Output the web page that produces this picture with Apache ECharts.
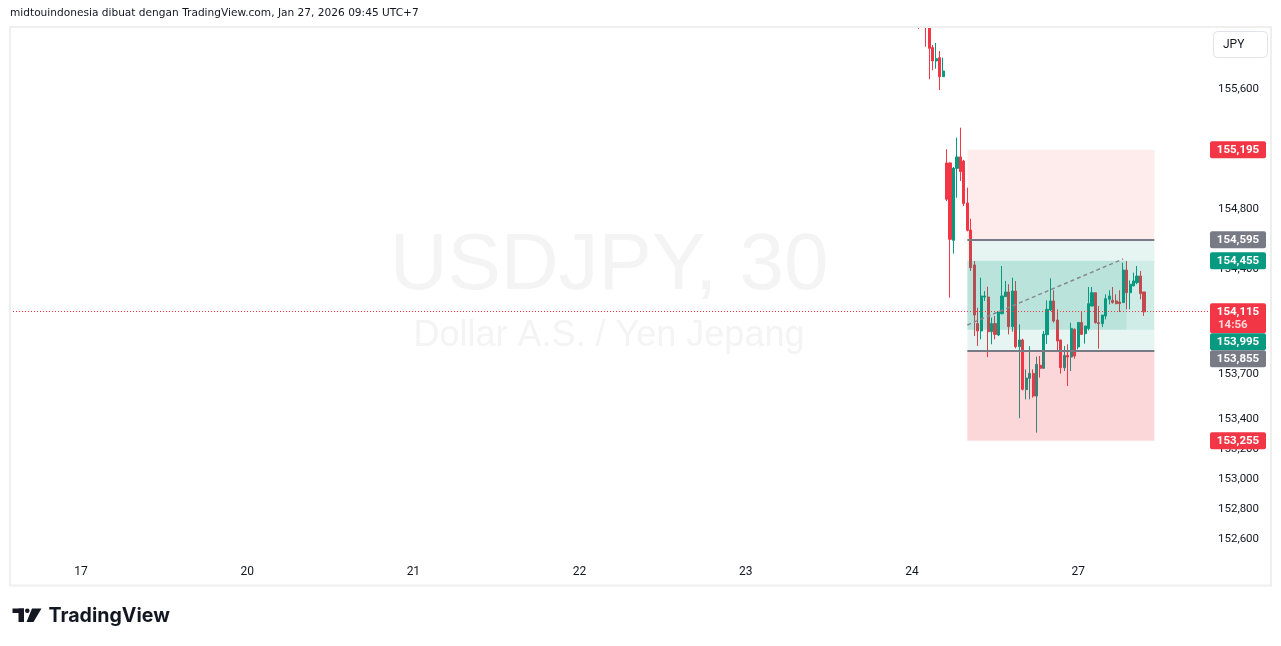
<!DOCTYPE html>
<html>
<head>
<meta charset="utf-8">
<title>USDJPY, 30</title>
<script src="https://cdn.jsdelivr.net/npm/echarts@6/dist/echarts.min.js"></script>
<style>
  html, body { margin: 0; padding: 0; background: #fff; }
  #chart { width: 1281px; height: 646px; }
</style>
</head>
<body>
<div id="chart"></div>
<script>
// time slots of 30 min, 48 per trading day; weekend compressed like TradingView
const slotCount = 346
const dayLabels = ['17', '20', '21', '22', '23', '24', '27']
const dayStartSlots = [20, 68, 116, 164, 212, 260, 308]

// price scale
const priceMin = 152473.33
const priceMax = 156013.33
const priceTicks = [155600, 154800, 154400, 153700, 153400, 153200, 153000, 152800, 152600]

// candles, first one sits in slot 262
const firstCandleSlot = 262
const candleOpen = [
  156150, 156200, 156150, 156050, 155876, 155787, 155809, 155682,
  155107, 155107, 154591, 155071, 155147, 155120, 154840, 154660, 154427, 154036,
  153987, 154213, 154213, 153982, 154036, 153960, 154102, 154216, 154247, 154016,
  154253, 153882, 153927, 153596, 153671, 153704, 153553, 153758, 153738, 153962,
  154127, 154187, 154060, 153927, 153742, 153824, 153813, 153998, 153880, 154044,
  153969, 154004, 154153, 154242, 154042, 154036, 154087, 154198, 154191, 154187,
  154180, 154176, 154393, 154242, 154287, 154309, 154353, 154247
]
const candleClose = [
  156080, 156150, 156050, 155871, 155787, 155802, 155682, 155720,
  154865, 154598, 155073, 155147, 155049, 154836, 154658, 154409, 154093, 153987,
  154220, 154220, 153982, 154036, 153964, 154113, 154220, 154247, 154016, 154253,
  153882, 153927, 153598, 153673, 153704, 153553, 153764, 153738, 153966, 154131,
  154187, 154053, 153920, 153742, 153824, 153813, 154004, 153820, 154044, 153964,
  154020, 154169, 154242, 154042, 154036, 154093, 154202, 154220, 154176, 154169,
  154169, 154393, 154242, 154298, 154320, 154353, 154236, 154115
]
const candleLow = [
  156000, 156080, 155882, 155665, 155725, 155735, 155593, 155682,
  154853, 154209, 154502, 154875, 154987, 154820, 154651, 154387, 153953, 153887,
  153931, 154187, 153813, 153898, 153931, 153953, 154098, 154216, 153964, 153982,
  153871, 153405, 153590, 153531, 153531, 153542, 153309, 153676, 153736, 153900,
  154120, 154042, 153853, 153702, 153720, 153620, 153720, 153802, 153864, 153964,
  153902, 153991, 154153, 154036, 153869, 154013, 154064, 154164, 154169, 154164,
  154113, 154176, 154131, 154131, 154287, 154298, 154198, 154087
]
const candleHigh = [
  156200, 156250, 156200, 156100, 155893, 155907, 155853, 155809,
  155198, 155110, 155080, 155276, 155342, 155127, 154942, 154735, 154453, 154142,
  154342, 154253, 154282, 154076, 154087, 154113, 154420, 154320, 154298, 154342,
  154320, 154031, 153935, 153731, 153885, 153731, 153816, 153820, 153987, 154191,
  154338, 154258, 154131, 153927, 153887, 153898, 154042, 154004, 154044, 154116,
  154020, 154280, 154280, 154242, 154153, 154093, 154231, 154258, 154280, 154231,
  154258, 154442, 154453, 154324, 154376, 154420, 154387, 154247
]

// two position tools drawn on the chart
const toolStartSlot = 276
const toolEndSlot = 330
const toolProgressSlot = 322
const shortEntry = 154595, shortStop = 155195, shortTarget = 153995
const longEntry = 153855, longStop = 153255, longTarget = 154455
const trendFrom = [276, 154027]
const trendTo = [321, 154467]
const lastPrice = 154115
const countdown = '14:56'

const UP = '#089981'
const DOWN = '#f23645'
const GREY = '#787b86'

const categories = new Array(slotCount).fill('')
dayStartSlots.forEach((s, i) => { categories[s] = dayLabels[i] })

const candles = new Array(slotCount).fill('-')
candleOpen.forEach((o, i) => {
  candles[firstCandleSlot + i] = [o, candleClose[i], candleLow[i], candleHigh[i]]
})

const fmt = v => Math.round(v).toLocaleString('en-US')

const gridLeft = 10
const gridRight = 73
const gridTop = 27
const gridBottom = 88

const chart = echarts.init(document.getElementById('chart'), null, { renderer: 'canvas' })

chart.setOption({
  animation: false,
  backgroundColor: '#ffffff',
  grid: {
    left: gridLeft,
    right: gridRight,
    top: gridTop,
    bottom: gridBottom,
    outerBoundsMode: 'none'
  },
  xAxis: {
    type: 'category',
    data: categories,
    boundaryGap: true,
    axisLine: { show: false },
    axisTick: { show: false },
    splitLine: { show: false },
    axisLabel: {
      interval: (i, v) => v !== '',
      color: '#131722',
      fontSize: 12,
      fontFamily: 'Roboto',
      margin: 8
    }
  },
  yAxis: {
    type: 'value',
    position: 'right',
    min: priceMin,
    max: priceMax,
    axisLine: { show: false },
    axisTick: { show: false },
    splitLine: { show: false },
    axisLabel: {
      customValues: priceTicks,
      formatter: fmt,
      color: '#131722',
      fontSize: 11.5,
      fontFamily: 'Roboto',
      margin: 10
    }
  },
  series: [{
    type: 'candlestick',
    data: candles,
    barWidth: '76%',
    clip: true,
    z: 2,
    itemStyle: {
      color: UP,
      color0: DOWN,
      borderColor: UP,
      borderColor0: DOWN,
      borderWidth: 1
    },
    markArea: {
      silent: true,
      z: 3,
      itemStyle: { borderWidth: 0 },
      data: [
        [{ coord: [toolStartSlot, shortStop], itemStyle: { color: 'rgba(242,54,69,0.1)' } }, { coord: [toolEndSlot, shortEntry] }],
        [{ coord: [toolStartSlot, shortEntry], itemStyle: { color: 'rgba(8,153,129,0.1)' } }, { coord: [toolEndSlot, shortTarget] }],
        [{ coord: [toolStartSlot, longTarget], itemStyle: { color: 'rgba(8,153,129,0.1)' } }, { coord: [toolEndSlot, longEntry] }],
        [{ coord: [toolStartSlot, longTarget], itemStyle: { color: 'rgba(8,153,129,0.1)' } }, { coord: [toolProgressSlot, shortTarget] }],
        [{ coord: [toolStartSlot, longEntry], itemStyle: { color: 'rgba(242,54,69,0.2)' } }, { coord: [toolEndSlot, longStop] }]
      ]
    },
    markLine: {
      silent: true,
      symbol: ['none', 'none'],
      label: { show: false },
      data: [
        { yAxis: lastPrice, lineStyle: { color: DOWN, width: 1, type: [1, 2] } },
        [{ coord: [toolStartSlot, shortEntry], lineStyle: { color: GREY, width: 2, type: 'solid' } }, { coord: [toolEndSlot, shortEntry] }],
        [{ coord: [toolStartSlot, longEntry], lineStyle: { color: GREY, width: 2, type: 'solid' } }, { coord: [toolEndSlot, longEntry] }],
        [{ coord: trendFrom, lineStyle: { color: '#868993', width: 1.5, type: [4, 3] } }, { coord: trendTo }]
      ]
    }
  }]
})

// price tags on the right scale, stacked so they do not overlap
const priceTags = [
  { v: shortStop, color: DOWN },
  { v: shortEntry, color: GREY },
  { v: longTarget, color: UP },
  { v: lastPrice, color: DOWN, sub: countdown },
  { v: shortTarget, color: UP },
  { v: longEntry, color: GREY },
  { v: longStop, color: DOWN }
]

const tagX = 1210
const tagW = 56
const tagH = 17
const graphics = []
let prevBottom = -Infinity
priceTags.forEach(t => {
  const y = chart.convertToPixel({ yAxisIndex: 0 }, t.v)
  const h = t.sub ? 30 : tagH
  const top = Math.max(y - tagH / 2, prevBottom)
  prevBottom = top + h
  graphics.push({
    type: 'rect', z: 100,
    shape: { x: tagX, y: top, width: tagW, height: h, r: 2 },
    style: { fill: t.color }
  })
  graphics.push({
    type: 'text', z: 101,
    x: tagX + tagW / 2, y: top + tagH / 2,
    style: { text: fmt(t.v), fill: '#fff', font: 'bold 11.5px Roboto', align: 'center', verticalAlign: 'middle' }
  })
  if (t.sub) {
    graphics.push({
      type: 'text', z: 101,
      x: tagX + 8, y: top + tagH / 2 + 13,
      style: { text: t.sub, fill: 'rgba(255,255,255,0.8)', font: 'bold 11.5px Roboto', align: 'left', verticalAlign: 'middle' }
    })
  }
})

const plotW = 1281 - gridLeft - gridRight
const cx = gridLeft + plotW / 2

chart.setOption({
  graphic: [
    // watermark
    {
      type: 'text', z: 0, silent: true,
      x: cx, y: 267,
      style: { text: 'USDJPY, 30', fill: '#f4f4f5', font: '80px "Liberation Sans", Arial', align: 'center', verticalAlign: 'middle' }
    },
    {
      type: 'text', z: 0, silent: true,
      x: cx, y: 336,
      style: { text: 'Dollar A.S. / Yen Jepang', fill: '#f4f4f5', font: '36px "Liberation Sans", Arial', align: 'center', verticalAlign: 'middle' }
    },
    // pane top edge: hides the part of candles above the price range
    {
      type: 'rect', z: 89, silent: true,
      shape: { x: 10, y: 0, width: 1261, height: 27 },
      style: { fill: '#ffffff' }
    },
    // frame
    {
      type: 'rect', z: 90, silent: true,
      shape: { x: 10, y: 27, width: 1261, height: 558.5 },
      style: { fill: 'none', stroke: '#efefef', lineWidth: 2 }
    },
    // header
    {
      type: 'text', z: 90,
      x: 10, y: 13,
      style: { text: 'midtouindonesia dibuat dengan TradingView.com, Jan 27, 2026 09:45 UTC+7', fill: '#131722', font: '10.6px "DejaVu Sans"', align: 'left', verticalAlign: 'middle' }
    },
    // currency button
    {
      type: 'rect', z: 90,
      shape: { x: 1213.5, y: 31.5, width: 54, height: 26, r: 4 },
      style: { fill: '#fff', stroke: '#e0e3eb', lineWidth: 1 }
    },
    {
      type: 'text', z: 91,
      x: 1223, y: 44.5,
      style: { text: 'JPY', fill: '#131722', font: '12px Roboto', align: 'left', verticalAlign: 'middle' }
    },
    // logo
    {
      type: 'group', z: 90,
      children: [
        { type: 'rect', shape: { x: 12.5, y: 608.5, width: 11.5, height: 4.5 }, style: { fill: '#131722' } },
        { type: 'rect', shape: { x: 18.5, y: 608.5, width: 5.5, height: 13.5 }, style: { fill: '#131722' } },
        { type: 'circle', shape: { cx: 27.3, cy: 610.8, r: 2.3 }, style: { fill: '#131722' } },
        { type: 'polygon', shape: { points: [[32, 608.5], [41.5, 608.5], [33.5, 622], [26.5, 622]] }, style: { fill: '#131722' } },
        {
          type: 'text', x: 48.5, y: 616,
          style: { text: 'TradingView', fill: '#131722', font: 'bold 19.6px Inter', align: 'left', verticalAlign: 'middle' }
        }
      ]
    },
    ...graphics
  ]
})
</script>
</body>
</html>
